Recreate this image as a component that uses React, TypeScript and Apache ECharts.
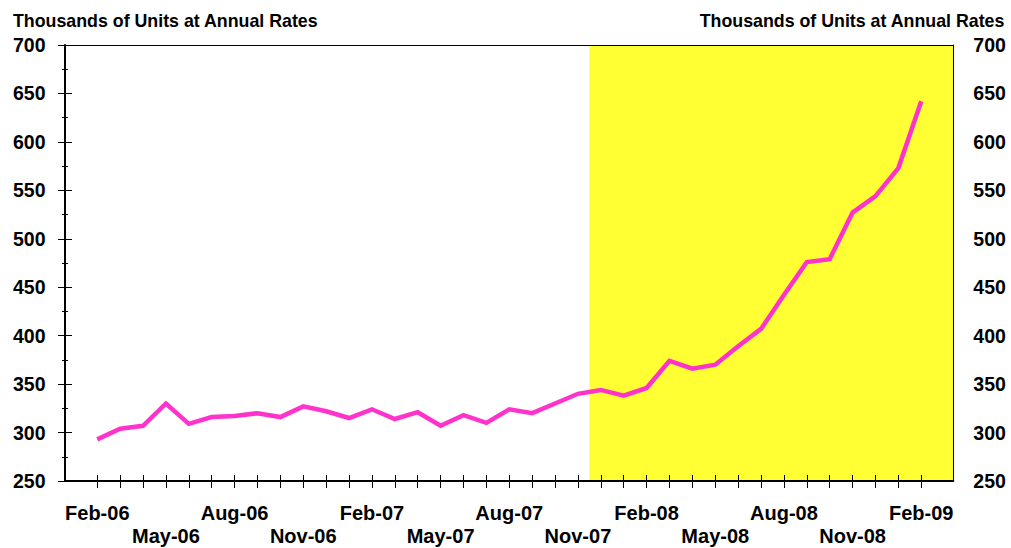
import { useEffect, useRef } from "react";
import * as echarts from "echarts";

// Monthly observations, Feb 2006 through Feb 2009
const months = [
  "Feb-06", "Mar-06", "Apr-06", "May-06", "Jun-06", "Jul-06", "Aug-06", "Sep-06", "Oct-06", "Nov-06", "Dec-06",
  "Jan-07", "Feb-07", "Mar-07", "Apr-07", "May-07", "Jun-07", "Jul-07", "Aug-07", "Sep-07", "Oct-07", "Nov-07", "Dec-07",
  "Jan-08", "Feb-08", "Mar-08", "Apr-08", "May-08", "Jun-08", "Jul-08", "Aug-08", "Sep-08", "Oct-08", "Nov-08", "Dec-08",
  "Jan-09", "Feb-09",
];

// Thousands of units at annual rates
const units = [
  293, 304, 307, 330, 309, 316, 317, 320, 316, 327, 322,
  315, 324, 314, 321, 307, 318, 310, 324, 320, 330, 340, 344,
  338, 346, 374, 366, 370, 389, 407, 442, 476, 479, 527, 544,
  573, 642,
];

// Shaded period begins with this month and runs to the end of the chart
const shadeStartMonth = "Dec-07";

const yMin = 250;
const yMax = 700;
const yStep = 50;

const unitTitle = "Thousands of Units at Annual Rates";

const FONT = "'Liberation Sans', Arial, Helvetica, sans-serif";

export default function App() {
  const ref = useRef<HTMLDivElement>(null);

  useEffect(() => {
    if (!ref.current) return;
    const chart = echarts.init(ref.current, undefined, { renderer: "svg" });

    const padLeft = 1.41;
    const padRight = 1.4;
    const xMin = -padLeft;
    const xMax = months.length - 1 + padRight;
    const tickIdx = months.map((_, i) => i);
    const labelIdx = tickIdx.filter((i) => i % 3 === 0);
    const shadeStart = months.indexOf(shadeStartMonth) - 0.5;

    const labelStyle = {
      color: "#000",
      fontFamily: FONT,
      fontWeight: "bold" as const,
    };

    const baseX = {
      type: "value" as const,
      min: xMin,
      max: xMax,
      gridIndex: 0,
      splitLine: { show: false },
    };

    const baseY = {
      type: "value" as const,
      min: yMin,
      max: yMax,
      interval: yStep,
      gridIndex: 0,
      splitLine: { show: false },
    };

    chart.setOption({
      animation: false,
      backgroundColor: "#fff",
      grid: { left: 65, top: 45, width: 888.3, height: 438.3, containLabel: false },
      xAxis: [
        {
          ...baseX,
          position: "bottom",
          z: 5,
          axisLine: { show: true, onZero: false, lineStyle: { color: "#000", width: 2 } },
          axisTick: {
            show: true,
            inside: false,
            length: 7,
            customValues: tickIdx,
            lineStyle: { color: "#000", width: 1 },
          },
          axisLabel: {
            show: true,
            ...labelStyle,
            fontSize: 20,
            lineHeight: 23.5,
            margin: 20,
            customValues: labelIdx,
            formatter: (v: number) => {
              const i = Math.round(v);
              const text = months[i] ?? "";
              return (i / 3) % 2 === 1 ? "\n" + text : text;
            },
          },
        },
        {
          ...baseX,
          position: "bottom",
          z: 5,
          axisLine: { show: false, onZero: false },
          axisTick: {
            show: true,
            inside: true,
            length: 6,
            customValues: tickIdx,
            lineStyle: { color: "#000", width: 1 },
          },
          axisLabel: { show: false },
        },
        {
          ...baseX,
          position: "top",
          z: 5,
          axisLine: { show: true, onZero: false, lineStyle: { color: "#000", width: 1 } },
          axisTick: { show: false },
          axisLabel: { show: false },
        },
      ],
      yAxis: [
        {
          ...baseY,
          position: "left",
          z: 5,
          axisLine: { show: true, onZero: false, lineStyle: { color: "#000", width: 2 } },
          axisTick: { show: true, inside: false, length: 7, lineStyle: { color: "#000", width: 1 } },
          minorTick: { show: true, splitNumber: 2, length: 3, lineStyle: { color: "#000", width: 1 } },
          axisLabel: { show: true, ...labelStyle, fontSize: 19.5, margin: 19.5 },
        },
        {
          ...baseY,
          position: "left",
          z: 5,
          axisLine: { show: false, onZero: false },
          axisTick: { show: true, inside: true, length: 7, lineStyle: { color: "#000", width: 1 } },
          minorTick: { show: true, splitNumber: 2, length: 3, lineStyle: { color: "#000", width: 1 } },
          axisLabel: { show: false },
        },
        {
          ...baseY,
          position: "right",
          z: 5,
          axisLine: { show: true, onZero: false, lineStyle: { color: "#000", width: 1 } },
          axisTick: { show: false },
          axisLabel: { show: true, ...labelStyle, fontSize: 19.5, margin: 20, align: "left" },
        },
      ],
      series: [
        {
          type: "line",
          xAxisIndex: 0,
          yAxisIndex: 0,
          data: units.map((v, i) => [i, v]),
          symbol: "none",
          lineStyle: { color: "#FF33CC", width: 4.5, join: "miter" },
          z: 3,
          markArea: {
            silent: true,
            itemStyle: { color: "#FFFF33", opacity: 1 },
            data: [[{ xAxis: shadeStart }, { xAxis: xMax }]],
          },
        },
      ],
      graphic: [
        {
          type: "text",
          left: 13,
          top: 12,
          style: {
            text: unitTitle,
            fill: "#000",
            font: `bold 17.8px ${FONT}`,
          },
        },
        {
          type: "text",
          right: 6,
          top: 12,
          style: {
            text: unitTitle,
            fill: "#000",
            font: `bold 17.8px ${FONT}`,
          },
        },
      ],
    });

    return () => chart.dispose();
  }, []);

  return (
    <div
      ref={ref}
      style={{ position: "fixed", left: 0, top: 0, width: 1011, height: 548 }}
    />
  );
}
